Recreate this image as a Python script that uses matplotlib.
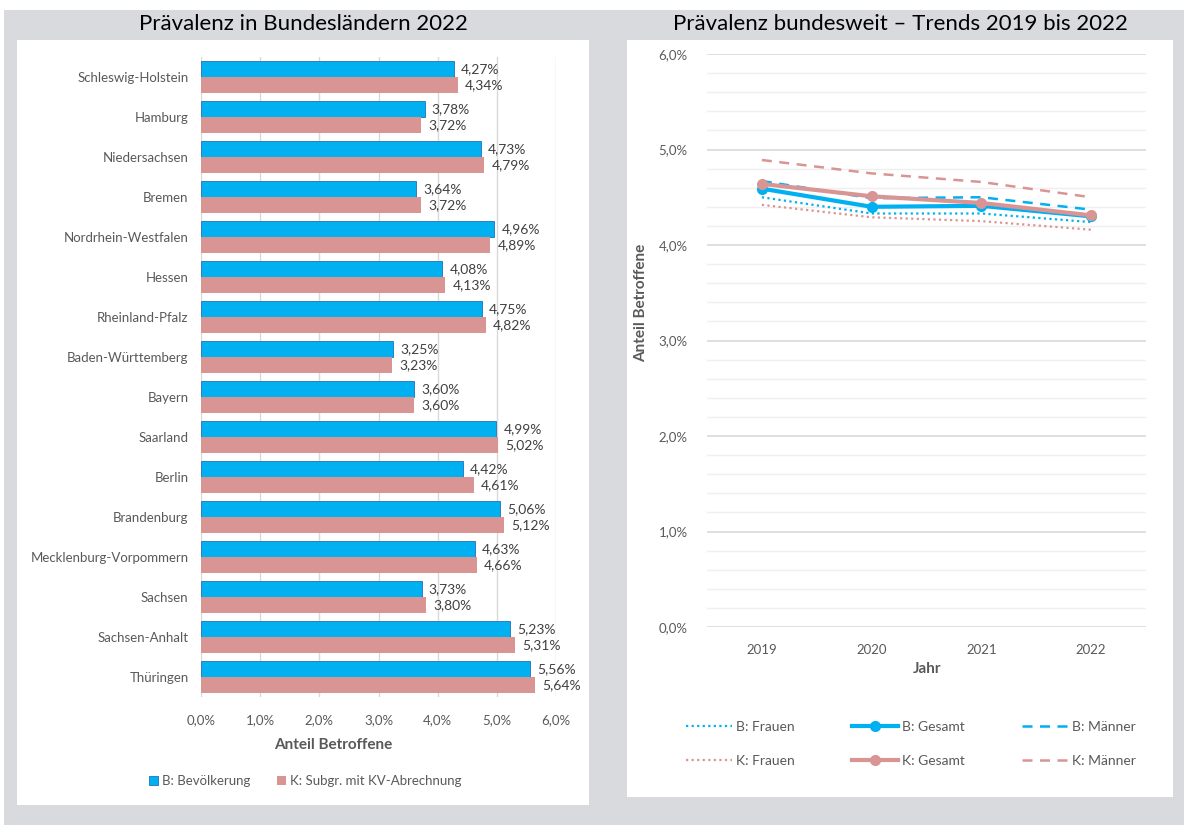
import matplotlib
matplotlib.use("Agg")
import matplotlib.pyplot as plt
import numpy as np
from matplotlib.patches import Rectangle, Patch
from matplotlib.lines import Line2D
from matplotlib.ticker import FuncFormatter, MultipleLocator

plt.rcParams['font.family'] = ['Lato', 'DejaVu Sans']

# ---------------- data ----------------
laender = ["Schleswig-Holstein", "Hamburg", "Niedersachsen", "Bremen",
           "Nordrhein-Westfalen", "Hessen", "Rheinland-Pfalz", "Baden-Württemberg",
           "Bayern", "Saarland", "Berlin", "Brandenburg",
           "Mecklenburg-Vorpommern", "Sachsen", "Sachsen-Anhalt", "Thüringen"]
bevoelkerung = [4.27, 3.78, 4.73, 3.64, 4.96, 4.08, 4.75, 3.25,
                3.60, 4.99, 4.42, 5.06, 4.63, 3.73, 5.23, 5.56]
kv_subgruppe = [4.34, 3.72, 4.79, 3.72, 4.89, 4.13, 4.82, 3.23,
                3.60, 5.02, 4.61, 5.12, 4.66, 3.80, 5.31, 5.64]

jahre = ["2019", "2020", "2021", "2022"]
b_frauen = [4.50, 4.33, 4.33, 4.24]
b_gesamt = [4.59, 4.40, 4.41, 4.30]
b_maenner = [4.67, 4.49, 4.50, 4.37]
k_frauen = [4.42, 4.29, 4.25, 4.16]
k_gesamt = [4.64, 4.51, 4.44, 4.31]
k_maenner = [4.89, 4.75, 4.66, 4.50]

BLUE = "#00b0f0"
PINK = "#d99594"
GRID = "#d9d9d9"
MINOR = "#efefef"
TXT = "#595959"
VAL = "#404040"

def pct(v, pos=None):
    return f"{v:.1f}%".replace(".", ",")

def pct2(v):
    return f"{v:.2f}%".replace(".", ",")

W, H = 1184, 825
fig = plt.figure(figsize=(W / 100, H / 100), dpi=100)
fig.patch.set_facecolor("white")

def px_rect(x0, y0, x1, y1, color):
    fig.patches.append(Rectangle((x0 / W, 1 - y1 / H), (x1 - x0) / W, (y1 - y0) / H,
                                 transform=fig.transFigure, facecolor=color,
                                 edgecolor="none", zorder=-10))

px_rect(4, 10, 1184, 825, "#d8dadd")
px_rect(17, 40, 589, 805, "white")
px_rect(627, 40, 1173, 797, "white")

fig.text(303 / W, 1 - 24 / H, "Prävalenz in Bundesländern 2022", ha="center", va="center",
         fontsize=16, color="black")
fig.text(900 / W, 1 - 24 / H, "Prävalenz bundesweit – Trends 2019 bis 2022", ha="center",
         va="center", fontsize=16, color="black")

# ---------------- left chart ----------------
axL = fig.add_axes([201 / W, 1 - 697 / H, 355 / W, 640 / H])
n = len(laender)
y = np.arange(n)
bh = 0.39
axL.barh(y - bh / 2, bevoelkerung, height=bh, color=BLUE, edgecolor="#2f7fc0",
         linewidth=0.7, zorder=3)
axL.barh(y + bh / 2, kv_subgruppe, height=bh, color=PINK, edgecolor="none", zorder=3)
for i in range(n):
    axL.text(bevoelkerung[i] + 0.12, y[i] - bh / 2, pct2(bevoelkerung[i]),
             va="center", ha="left", fontsize=10, color=VAL)
    axL.text(kv_subgruppe[i] + 0.12, y[i] + bh / 2, pct2(kv_subgruppe[i]),
             va="center", ha="left", fontsize=10, color=VAL)
axL.set_ylim(n - 0.5, -0.5)
axL.set_xlim(0, 6)
axL.set_yticks(y)
axL.set_yticklabels(laender, fontsize=9.5, color=TXT)
axL.xaxis.set_major_locator(MultipleLocator(1))
axL.xaxis.set_major_formatter(FuncFormatter(pct))
axL.tick_params(axis="x", colors=TXT, labelsize=9.5, length=0, pad=12)
axL.tick_params(axis="y", length=0, pad=9)
axL.grid(axis="x", color=GRID, linewidth=1, zorder=0)
for s in axL.spines.values():
    s.set_visible(False)
fig.text(333 / W, 1 - 745 / H, "Anteil Betroffene", ha="center", va="center",
         fontsize=11, fontweight="bold", color=TXT)
axL.legend(handles=[Patch(facecolor=BLUE, edgecolor="#2f7fc0", linewidth=0.7, label="B: Bevölkerung"),
                    Patch(facecolor=PINK, label="K: Subgr. mit KV-Abrechnung")],
           loc="center", bbox_to_anchor=(305 / W, 1 - 781 / H), bbox_transform=fig.transFigure,
           ncol=2, frameon=False, fontsize=9.5, handlelength=0.7, handleheight=0.7,
           handletextpad=0.3, columnspacing=2.0, labelcolor=TXT)

# ---------------- right chart ----------------
axR = fig.add_axes([707 / W, 1 - 627 / H, 439 / W, 573 / H])
x = np.arange(len(jahre))
axR.plot(x, b_frauen, color=BLUE, lw=1.6, ls=(0, (1, 1.5)), label="B: Frauen", zorder=3)
axR.plot(x, k_frauen, color=PINK, lw=1.6, ls=(0, (1, 1.5)), label="K: Frauen", zorder=3)
axR.plot(x, b_maenner, color=BLUE, lw=1.8, ls=(0, (4, 3)), label="B: Männer", zorder=3)
axR.plot(x, k_maenner, color=PINK, lw=1.8, ls=(0, (4, 3)), label="K: Männer", zorder=3)
axR.plot(x, b_gesamt, color=BLUE, lw=3, marker="o", ms=7, label="B: Gesamt", zorder=4)
axR.plot(x, k_gesamt, color=PINK, lw=3, marker="o", ms=7, label="K: Gesamt", zorder=5)
axR.set_xlim(-0.5, len(jahre) - 0.5)
axR.set_ylim(0, 6)
axR.set_xticks(x)
axR.set_xticklabels(jahre)
axR.yaxis.set_major_locator(MultipleLocator(1))
axR.yaxis.set_minor_locator(MultipleLocator(0.2))
axR.yaxis.set_major_formatter(FuncFormatter(pct))
axR.grid(axis="y", which="major", color=GRID, linewidth=1.2, zorder=0)
axR.grid(axis="y", which="minor", color=MINOR, linewidth=1, zorder=0)
axR.tick_params(axis="both", which="both", length=0, colors=TXT, labelsize=9.5)
axR.tick_params(axis="x", pad=12)
axR.tick_params(axis="y", pad=14)
for s in axR.spines.values():
    s.set_visible(False)
fig.text(927 / W, 1 - 669 / H, "Jahr", ha="center", va="center",
         fontsize=11, fontweight="bold", color=TXT)
fig.text(641 / W, 1 - 303 / H, "Anteil Betroffene", rotation=90, ha="center", va="center",
         fontsize=11, fontweight="bold", color=TXT)

def h(label, ls, lw, marker=None, color=BLUE):
    return Line2D([], [], color=color, ls=ls, lw=lw, marker=marker, ms=7, label=label)

handles = [h("B: Frauen", (0, (1, 1.5)), 1.6),
           h("K: Frauen", (0, (1, 1.5)), 1.6, color=PINK),
           h("B: Gesamt", "-", 3, "o"),
           h("K: Gesamt", "-", 3, "o", color=PINK),
           h("B: Männer", (0, (4, 3)), 1.8),
           h("K: Männer", (0, (4, 3)), 1.8, color=PINK)]
fig.legend(handles=handles, loc="center", bbox_to_anchor=(911 / W, 1 - 744 / H),
           ncol=3, frameon=False, fontsize=10, handlelength=3.3, handletextpad=0.3,
           columnspacing=4.1, labelspacing=1.6, labelcolor=TXT)

fig.savefig("out.png", dpi=100)
